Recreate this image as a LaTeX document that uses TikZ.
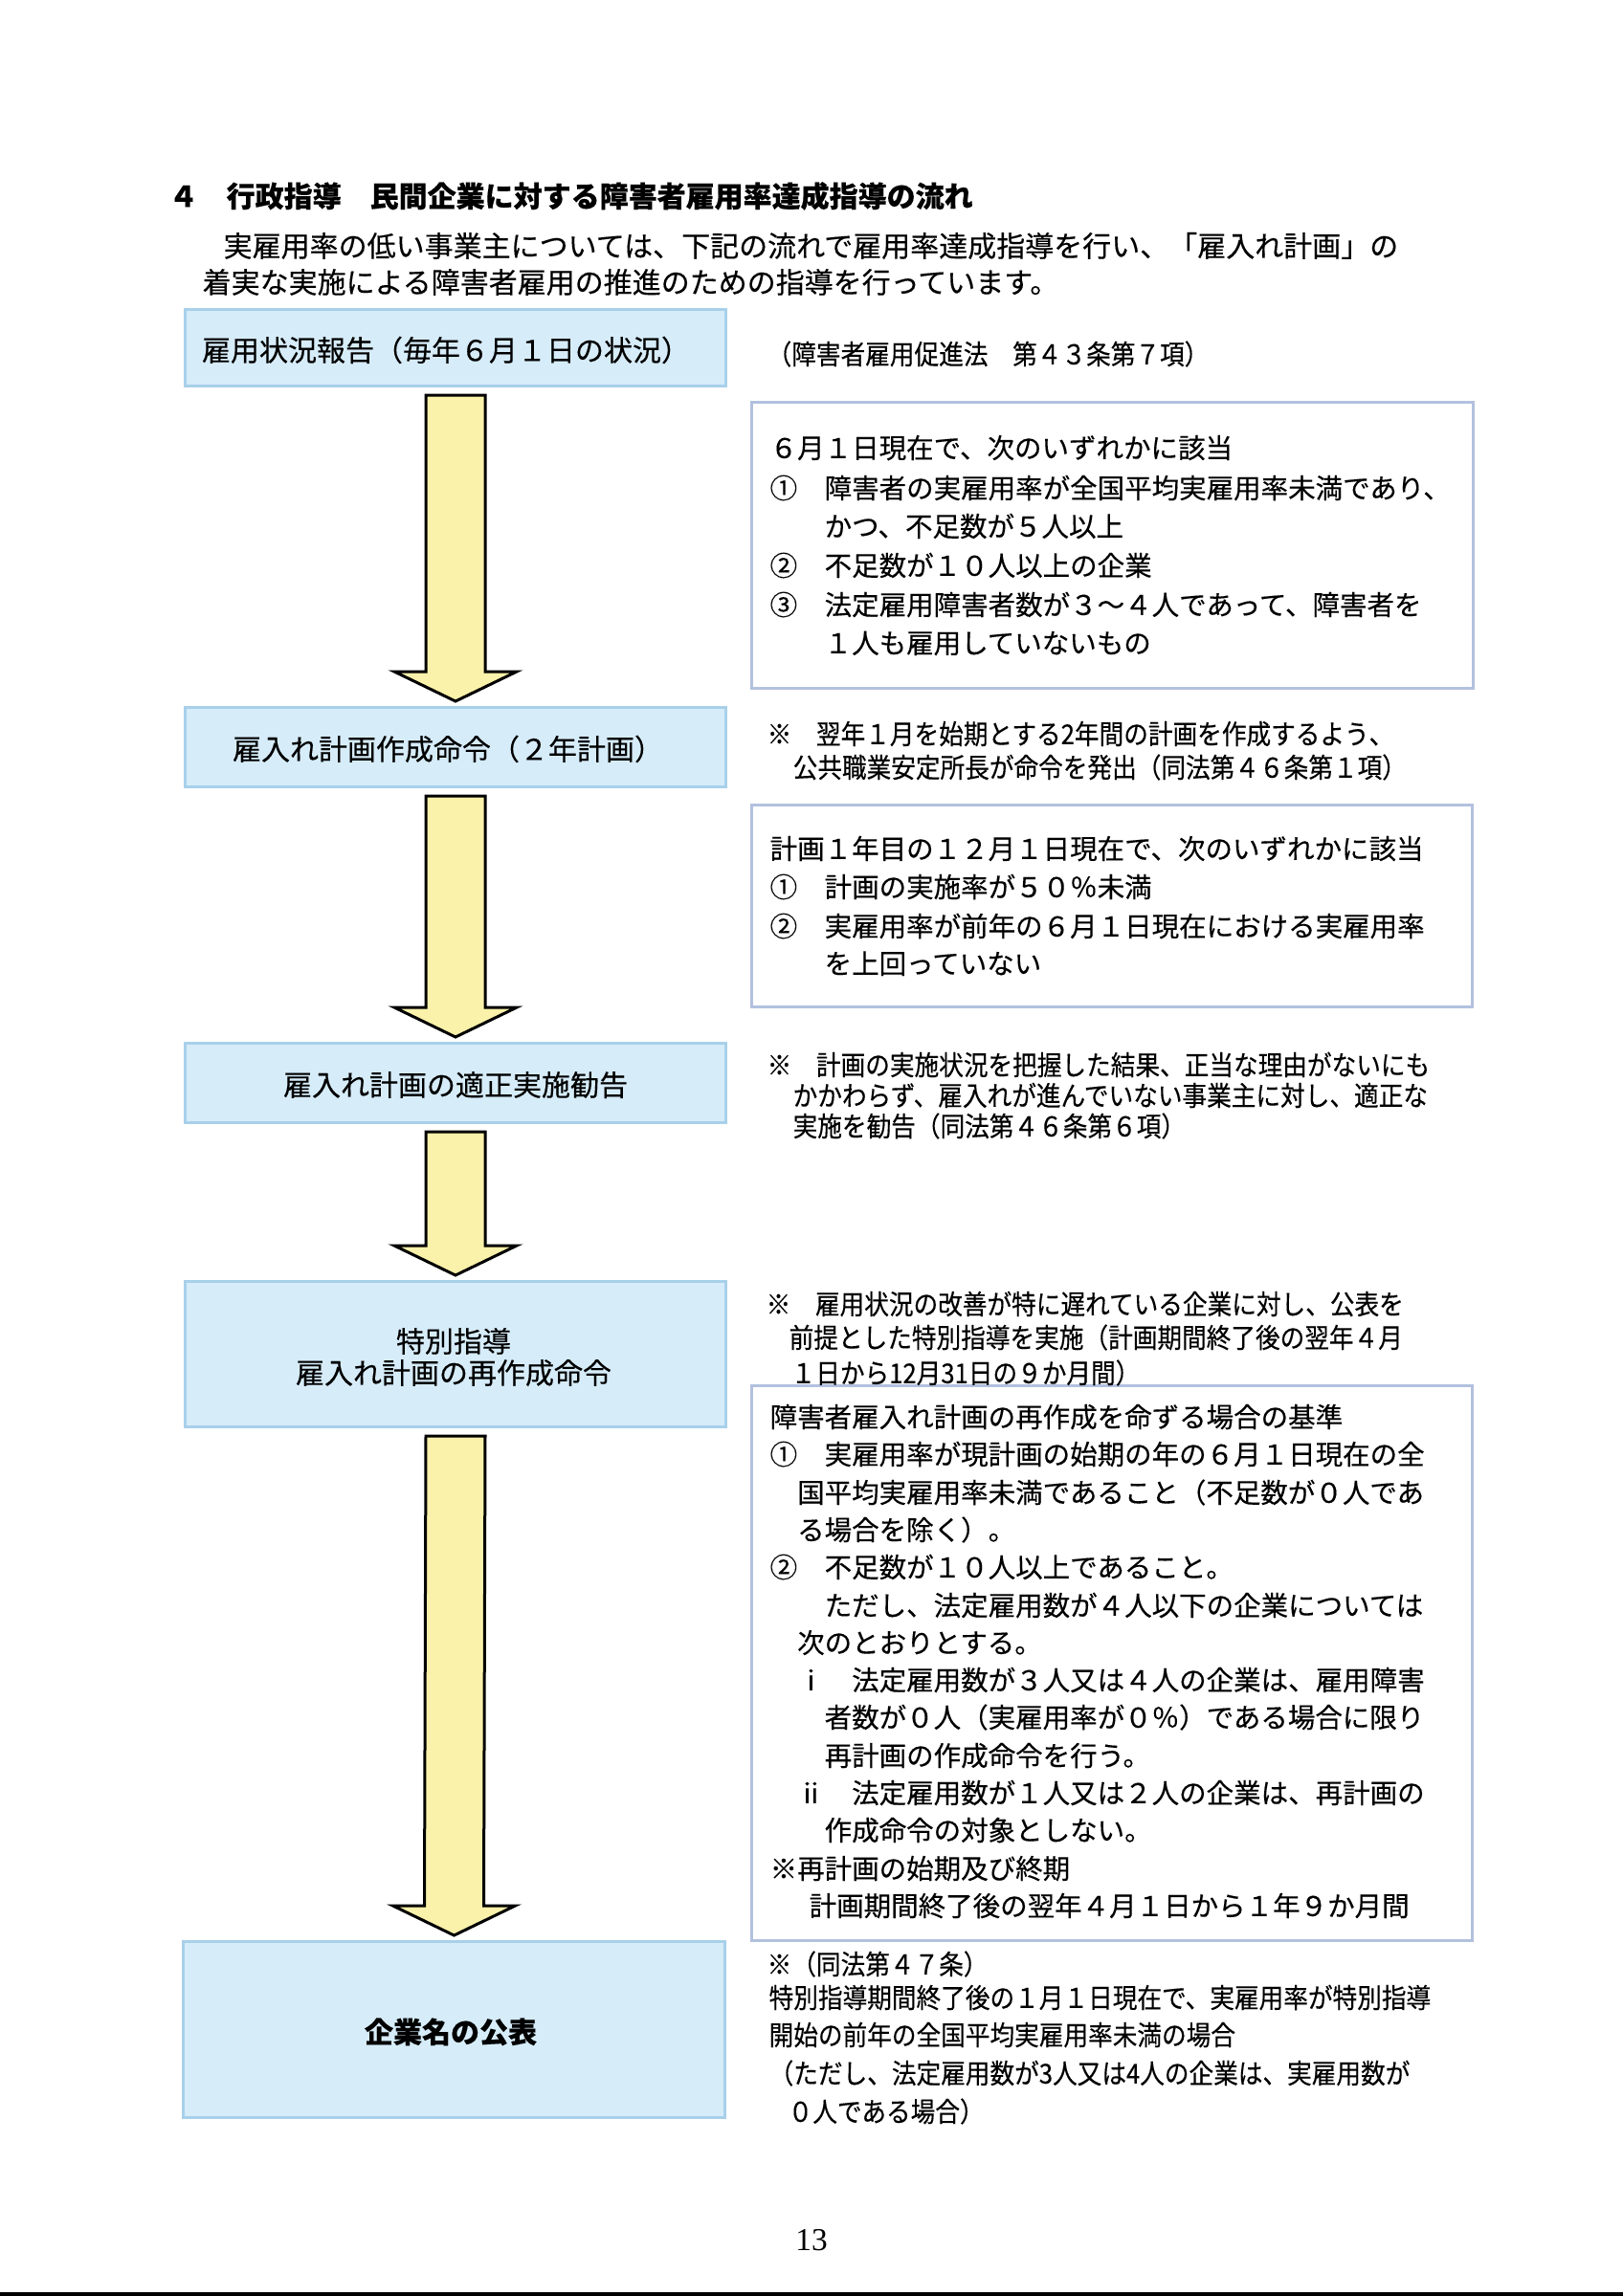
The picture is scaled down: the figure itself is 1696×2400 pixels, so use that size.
\documentclass[tikz,border=0pt]{standalone}
\usepackage{fontspec}
\newfontfamily\jp{Noto Sans CJK JP}[FakeBold=0.3]
\newfontfamily\jpc{Noto Sans CJK JP}[FakeStretch=0.9, FakeBold=0.3]
\newfontfamily\pnum{Liberation Serif}
\usetikzlibrary{calc}
\definecolor{mbfill}{RGB}{214,236,249}
\definecolor{mbline}{RGB}{168,208,234}
\definecolor{cbline}{RGB}{178,193,222}
\definecolor{arrowfill}{RGB}{250,241,170}
\tikzset{
  pxbox/.style 2 args={minimum width=#1*0.3pt, minimum height=#2*0.3pt},
  mainbox/.style={draw=mbline, fill=mbfill, line width=0.9pt, inner sep=0pt, anchor=north west},
  critbox/.style={draw=cbline, fill=white, line width=0.9pt, inner sep=0pt, anchor=north west},
  mtext/.style={anchor=center, inner sep=0pt, text height=7.9pt, text depth=1.1pt,
    font=\jp\fontsize{9}{10}\selectfont},
  ttext/.style={anchor=west, inner sep=0pt, text height=7.9pt, text depth=1.1pt,
    font=\jp\fontsize{9}{10}\selectfont},
  ctext/.style={anchor=west, inner sep=0pt, text height=7.5pt, text depth=1.0pt,
    font=\jp\fontsize{8.55}{10}\selectfont},
  ntext/.style={anchor=west, inner sep=0pt, text height=7.5pt, text depth=1.0pt,
    font=\jpc\fontsize{8.55}{10}\selectfont},
  blockarrow/.style={draw=black, fill=arrowfill, line width=0.9pt, line join=miter}
}
\newcommand\flowarrow[2]{%
  \draw[blockarrow] ($(#1.south)+(-31,8)$) -- ($(#2.north)+(-31,-36)$)
    -- ($(#2.north)+(-64,-36)$) -- ($(#2.north)+(0,-5)$)
    -- ($(#2.north)+(64,-36)$) -- ($(#2.north)+(31,-36)$)
    -- ($(#1.south)+(31,8)$) -- cycle;}
\begin{document}
\begin{tikzpicture}[x=0.3pt,y=-0.3pt]
\fill[white] (0,0) rectangle (1696,2400);
\useasboundingbox (0,0) rectangle (1696,2400);
\fill[black] (0,2396) rectangle (1696,2400);

% heading
\node[ttext, font=\jp\bfseries\fontsize{9}{10}\selectfont] (t1) at (176,205) {４　行政指導　民間企業に対する障害者雇用率達成指導の流れ};
\node[ttext] (t2) at (233,257) {実雇用率の低い事業主については、下記の流れで雇用率達成指導を行い、「雇入れ計画」の};
\node[ttext] (t3) at (211,295) {着実な実施による障害者雇用の推進のための指導を行っています。};

% main flow boxes
\node[mainbox, pxbox={565}{80}] (b1) at (192,322) {};
\node[mainbox, pxbox={565}{83}] (b2) at (192,738) {};
\node[mainbox, pxbox={565}{83}] (b3) at (192,1089) {};
\node[mainbox, pxbox={565}{152}] (b4) at (192,1338) {};
\node[mainbox, pxbox={566}{184}] (b5) at (190,2028) {};

\node[mtext] (b1t) at (466,366) {雇用状況報告（毎年６月１日の状況）};
\node[mtext] (b2t) at (468,783) {雇入れ計画作成命令（２年計画）};
\node[mtext] (b3t) at (476,1134) {雇入れ計画の適正実施勧告};
\node[mtext] (b4t1) at (474,1402) {特別指導};
\node[mtext] (b4t2) at (474,1435) {雇入れ計画の再作成命令};
\node[mtext, font=\jp\bfseries\fontsize{9}{10}\selectfont] (b5t) at (471,2124) {企業名の公表};

% arrows
\flowarrow{b1}{b2}
\flowarrow{b2}{b3}
\flowarrow{b3}{b4}
\flowarrow{b4}{b5}

% criteria boxes
\node[critbox, pxbox={754}{299}] (c1) at (784,419) {};
\node[critbox, pxbox={753}{211}] (c2) at (784,840) {};
\node[critbox, pxbox={753}{580}] (c4) at (784,1447) {};

% citation and notes
\node[ntext] (cite) at (801,370) {（障害者雇用促進法　第４３条第７項）};

\node[ntext] (n2a) at (801,767) {※　翌年１月を始期とする2年間の計画を作成するよう、};
\node[ntext] (n2b) at (828,802) {公共職業安定所長が命令を発出（同法第４６条第１項）};

\node[ntext] (n3a) at (801,1113) {※　計画の実施状況を把握した結果、正当な理由がないにも};
\node[ntext] (n3b) at (828,1145) {かかわらず、雇入れが進んでいない事業主に対し、適正な};
\node[ntext] (n3c) at (828,1177) {実施を勧告（同法第４６条第６項）};

\node[ntext] (n4a) at (800,1363) {※　雇用状況の改善が特に遅れている企業に対し、公表を};
\node[ntext] (n4b) at (824,1398) {前提とした特別指導を実施（計画期間終了後の翌年４月};
\node[ntext] (n4c) at (826,1435) {１日から12月31日の９か月間）};

\node[ntext] (n5a) at (801,2053) {※（同法第４７条）};
\node[ntext] (n5b) at (803,2088) {特別指導期間終了後の１月１日現在で、実雇用率が特別指導};
\node[ntext] (n5c) at (803,2127) {開始の前年の全国平均実雇用率未満の場合};
\node[ntext] (n5d) at (803,2167) {（ただし、法定雇用数が3人又は4人の企業は、実雇用数が};
\node[ntext] (n5e) at (823,2207) {０人である場合）};

% criteria box 1 text
\node[ctext] (c1a) at (804,468) {６月１日現在で、次のいずれかに該当};
\node[ctext] (c1b) at (804,510) {①　障害者の実雇用率が全国平均実雇用率未満であり、};
\node[ctext] (c1c) at (804,550) {　　かつ、不足数が５人以上};
\node[ctext] (c1d) at (804,591) {②　不足数が１０人以上の企業};
\node[ctext] (c1e) at (804,632) {③　法定雇用障害者数が３～４人であって、障害者を};
\node[ctext] (c1f) at (804,672) {　　１人も雇用していないもの};

% criteria box 2 text
\node[ctext] (c2a) at (804,887) {計画１年目の１２月１日現在で、次のいずれかに該当};
\node[ctext] (c2b) at (804,927) {①　計画の実施率が５０％未満};
\node[ctext] (c2c) at (804,968) {②　実雇用率が前年の６月１日現在における実雇用率};
\node[ctext] (c2d) at (804,1007) {　　を上回っていない};

% criteria box 4 text
\node[ctext] (c4a) at (804,1481) {障害者雇入れ計画の再作成を命ずる場合の基準};
\node[ctext] (c4b) at (804,1520) {①　実雇用率が現計画の始期の年の６月１日現在の全};
\node[ctext] (c4c) at (804,1560) {　国平均実雇用率未満であること（不足数が０人であ};
\node[ctext] (c4d) at (804,1599) {　る場合を除く）。};
\node[ctext] (c4e) at (804,1638) {②　不足数が１０人以上であること。};
\node[ctext] (c4f) at (804,1678) {　　ただし、法定雇用数が４人以下の企業については};
\node[ctext] (c4g) at (804,1717) {　次のとおりとする。};
\node[ctext] (c4h) at (804,1756) {　ⅰ　法定雇用数が３人又は４人の企業は、雇用障害};
\node[ctext] (c4i) at (804,1795) {　　者数が０人（実雇用率が０％）である場合に限り};
\node[ctext] (c4j) at (804,1835) {　　再計画の作成命令を行う。};
\node[ctext] (c4k) at (804,1874) {　ⅱ　法定雇用数が１人又は２人の企業は、再計画の};
\node[ctext] (c4l) at (804,1913) {　　作成命令の対象としない。};
\node[ctext] (c4m) at (804,1953) {※再計画の始期及び終期};
\node[ctext] (c4n) at (845,1992) {計画期間終了後の翌年４月１日から１年９か月間};

% page number
\node[inner sep=0pt, font=\pnum\fontsize{10}{12}\selectfont] (pg) at (848,2342) {13};
\end{tikzpicture}
\end{document}
